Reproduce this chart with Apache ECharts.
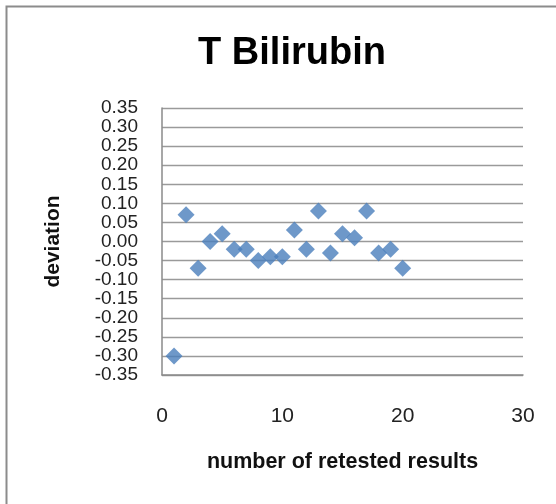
<!DOCTYPE html>
<html>
<head>
<meta charset="utf-8">
<style>
  html, body { margin: 0; padding: 0; background: #fff; }
  #chart { width: 556px; height: 504px; }
</style>
<script src="https://cdn.jsdelivr.net/npm/echarts@6/dist/echarts.min.js"></script>
</head>
<body>
<div id="chart"></div>
<script>
// Retest sequence number and the deviation observed for each retested result
const retestNumbers = [1, 2, 3, 4, 5, 6, 7, 8, 9, 10, 11, 12, 13, 14, 15, 16, 17, 18, 19, 20];
const deviations = [-0.30, 0.07, -0.07, 0.00, 0.02, -0.02, -0.02, -0.05, -0.04, -0.04,
                    0.03, -0.02, 0.08, -0.03, 0.02, 0.01, 0.08, -0.03, -0.02, -0.07];

const chartTitle = 'T Bilirubin';
const xAxisName = 'number of retested results';
const yAxisName = 'deviation';

const font = '"Liberation Sans", Arial, sans-serif';
const points = retestNumbers.map((n, i) => [n, deviations[i]]);

const chart = echarts.init(document.getElementById('chart'), null, { renderer: 'canvas' });
chart.setOption({
  backgroundColor: '#ffffff',
  animation: false,
  graphic: [{
    type: 'rect',
    shape: { x: 6.5, y: 6.5, width: 700, height: 700 },
    style: { fill: 'none', stroke: '#8c8c8c', lineWidth: 2 },
    silent: true
  }],
  title: {
    text: chartTitle,
    left: 287,
    top: 30,
    textAlign: 'center',
    textStyle: { fontFamily: font, fontWeight: 'bold', fontSize: 38, color: '#000' }
  },
  grid: { left: 162, right: 33, top: 108, bottom: 129, containLabel: false },
  xAxis: {
    type: 'value',
    min: 0, max: 30, interval: 10,
    name: xAxisName,
    nameLocation: 'middle',
    nameGap: 76,
    nameTextStyle: { fontFamily: font, fontWeight: 'bold', fontSize: 21.5, color: '#111' },
    axisLine: { show: true, onZero: false, lineStyle: { color: '#8a8a8a', width: 1.5 } },
    axisTick: { show: false },
    splitLine: { show: false },
    axisLabel: { fontFamily: font, fontSize: 21, color: '#222', margin: 31 }
  },
  yAxis: {
    type: 'value',
    min: -0.35, max: 0.35, interval: 0.05,
    name: yAxisName,
    nameLocation: 'middle',
    nameGap: 98,
    nameRotate: 90,
    nameTextStyle: { fontFamily: font, fontWeight: 'bold', fontSize: 21, color: '#111' },
    axisLine: { show: true, lineStyle: { color: '#8a8a8a', width: 1.5 } },
    axisTick: { show: false },
    splitLine: { show: true, lineStyle: { color: '#9a9a9a', width: 1.3 } },
    axisLabel: {
      fontFamily: font, fontSize: 19, color: '#222', margin: 24,
      formatter: v => v.toFixed(2)
    }
  },
  series: [{
    type: 'scatter',
    data: points,
    symbol: 'diamond',
    symbolSize: 17,
    itemStyle: { color: '#4a7ebb' }
  }]
});
</script>
</body>
</html>
